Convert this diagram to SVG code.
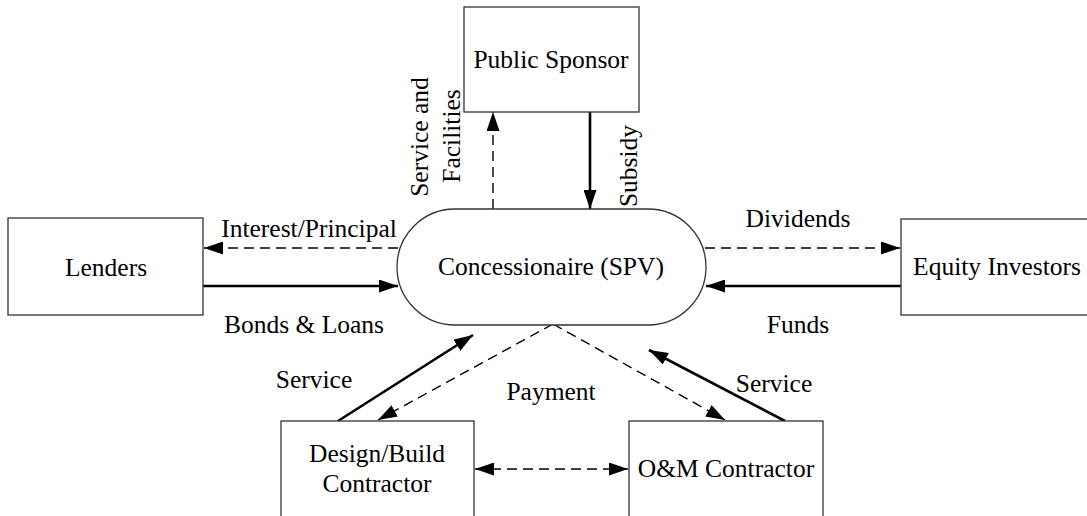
<svg xmlns="http://www.w3.org/2000/svg" width="1087" height="516" viewBox="0 0 1087 516">
<style>
text{font-family:"Liberation Serif","Times New Roman",serif;font-size:25.5px;fill:#000;text-anchor:middle}
.box{fill:#fff;stroke:#333;stroke-width:1.3}
.solid{fill:none;stroke:#000;stroke-width:2.6}
.dash{fill:none;stroke:#000;stroke-width:1.4;stroke-dasharray:10 6}
</style>
<defs>
<marker id="ah" markerUnits="userSpaceOnUse" markerWidth="19" markerHeight="13" refX="19" refY="6.5" orient="auto-start-reverse">
<path d="M0,0 L19,6.5 L0,13 z" fill="#000"/>
</marker>
</defs>
<rect width="1087" height="516" fill="#fff"/>
<g id="connectors">
<line class="dash" x1="493" y1="209" x2="493" y2="112" marker-end="url(#ah)"/>
<line class="solid" x1="590" y1="112" x2="590" y2="209" marker-end="url(#ah)"/>
<line class="dash" x1="398" y1="248" x2="204" y2="248" marker-end="url(#ah)"/>
<line class="solid" x1="203" y1="286" x2="398" y2="286" marker-end="url(#ah)"/>
<line class="dash" x1="705" y1="248" x2="900" y2="248" marker-end="url(#ah)"/>
<line class="solid" x1="901" y1="286" x2="706" y2="286" marker-end="url(#ah)"/>
<line class="solid" x1="338" y1="421" x2="473" y2="335" marker-end="url(#ah)"/>
<line class="dash" x1="553" y1="324" x2="378" y2="420" marker-end="url(#ah)"/>
<line class="dash" x1="553" y1="324" x2="725" y2="420" marker-end="url(#ah)"/>
<line class="solid" x1="785" y1="421" x2="649" y2="350" marker-end="url(#ah)"/>
<line class="dash" x1="475" y1="469" x2="628" y2="469" marker-start="url(#ah)" marker-end="url(#ah)"/>
</g>
<g id="public-sponsor">
<rect class="box" x="464" y="7" width="175" height="105"/>
<text x="551" y="68">Public Sponsor</text>
</g>
<g id="concessionaire">
<rect class="box" x="397" y="209" width="309" height="116" rx="58" ry="58"/>
<text x="551" y="275">Concessionaire (SPV)</text>
</g>
<g id="lenders">
<rect class="box" x="8" y="218" width="195" height="97"/>
<text x="106" y="276">Lenders</text>
</g>
<g id="equity-investors">
<rect class="box" x="901" y="219" width="192" height="96"/>
<text x="997" y="275">Equity Investors</text>
</g>
<g id="design-build">
<rect class="box" x="281" y="421" width="193" height="110"/>
<text x="377" y="462">Design/Build</text>
<text x="377" y="492">Contractor</text>
</g>
<g id="om-contractor">
<rect class="box" x="629" y="421" width="194" height="110"/>
<text x="726" y="477">O&amp;M Contractor</text>
</g>
<g id="labels">
<text transform="translate(428,137) rotate(-90)">Service and</text>
<text transform="translate(460,136) rotate(-90)">Facilities</text>
<text transform="translate(637,166) rotate(-90)">Subsidy</text>
<text x="309" y="237">Interest/Principal</text>
<text x="304" y="333">Bonds &amp; Loans</text>
<text x="798" y="227">Dividends</text>
<text x="798" y="333">Funds</text>
<text x="314" y="388">Service</text>
<text x="774" y="392">Service</text>
<text x="551" y="400">Payment</text>
</g>
</svg>
